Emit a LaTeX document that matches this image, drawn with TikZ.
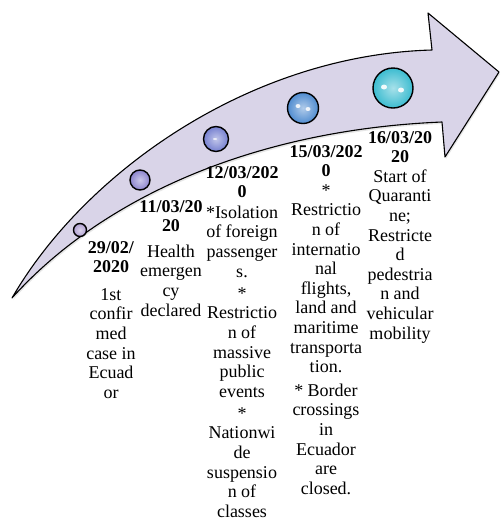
\documentclass[tikz,border=0pt]{standalone}
\usepackage{fontspec}
\setmainfont{Liberation Serif}
\usetikzlibrary{positioning,shadows}

\definecolor{arrowfill}{RGB}{217,212,232}
\definecolor{dotA}{RGB}{176,160,210}
\definecolor{dotB}{RGB}{140,132,206}
\definecolor{dotC}{RGB}{118,128,208}
\definecolor{dotD}{RGB}{80,140,208}
\definecolor{dotE}{RGB}{60,188,208}

\begin{document}
\begin{tikzpicture}[x=1pt,y=-1pt,
  event node/.style={circle,draw,line width=1.4pt,inner sep=0pt},
  date text/.style={anchor=north,align=center,inner sep=0pt,
    font=\fontsize{18}{19.6}\selectfont}]

  \useasboundingbox (0,0) rectangle (502,523);

  % the arrow
  \draw[fill=arrowfill,line width=1.1pt,line join=round,
    drop shadow={opacity=0.2,shadow xshift=1pt,shadow yshift=-2pt}]
    (12,298) .. controls (85,172) and (250,55) .. (432,50)
    -- (428,13) -- (499,72) -- (445,157) -- (442,122)
    .. controls (250,130) and (100,200) .. (12,298) -- cycle;

  % events on the arrow
  \node[event node,minimum size=13pt,inner color=dotA!45,outer color=dotA] (1) at (80,230) {};
  \node[event node,minimum size=20pt,inner color=dotB!45,outer color=dotB] (2) at (140,180) {};
  \node[event node,minimum size=25pt,inner color=dotC!45,outer color=dotC] (3) at (216,139) {};
  \node[event node,minimum size=31pt,inner color=dotD!45,outer color=dotD] (4) at (303,108) {};
  \node[event node,minimum size=40pt,inner color=dotE!45,outer color=dotE] (5) at (393,88) {};

  \fill[white,opacity=0.7] ([shift={(-1,0)}]3.center) ellipse (2pt and 1pt);
  \fill[white,opacity=0.85] ([shift={(-5,-2)}]4.center) ellipse (2.5pt and 2pt);
  \fill[white,opacity=0.85] ([shift={(5,1)}]4.center) ellipse (2.5pt and 2pt);
  \fill[white,opacity=0.9] ([shift={(-9,-1)}]5.center) ellipse (3pt and 2.5pt);
  \fill[white,opacity=0.9] ([shift={(8,2)}]5.center) ellipse (3pt and 2.5pt);

  % texts under the arrow
  \node[date text] (t1) at (111,241) {\textbf{29/02/}\\\textbf{2020}\\[8pt]1st\\confir\\med\\case in\\Ecuad\\or};
  \node[date text] (t2) at (171,200) {\textbf{11/03/20}\\\textbf{20}\\[6pt]Health\\emergen\\cy\\declared};
  \node[date text] (t3) at (242,166) {\textbf{12/03/202}\\\textbf{0}\\[1pt]*Isolation\\of foreign\\passenger\\s.\\[2.5pt]*\\Restrictio\\n of\\massive\\public\\events\\[2.5pt]*\\Nationwi\\de\\suspensio\\n of\\classes};
  \node[date text] (t4) at (326,145) {\textbf{15/03/202}\\\textbf{0}\\*\\Restrictio\\n of\\internatio\\nal\\flights,\\land and\\maritime\\transporta\\tion.\\[4pt]* Border\\crossings\\in\\Ecuador\\are\\closed.};
  \node[date text] (t5) at (400,131) {\textbf{16/03/20}\\\textbf{20}\\Start of\\Quaranti\\ne;\\Restricte\\d\\pedestria\\n and\\vehicular\\mobility};
\end{tikzpicture}
\end{document}
